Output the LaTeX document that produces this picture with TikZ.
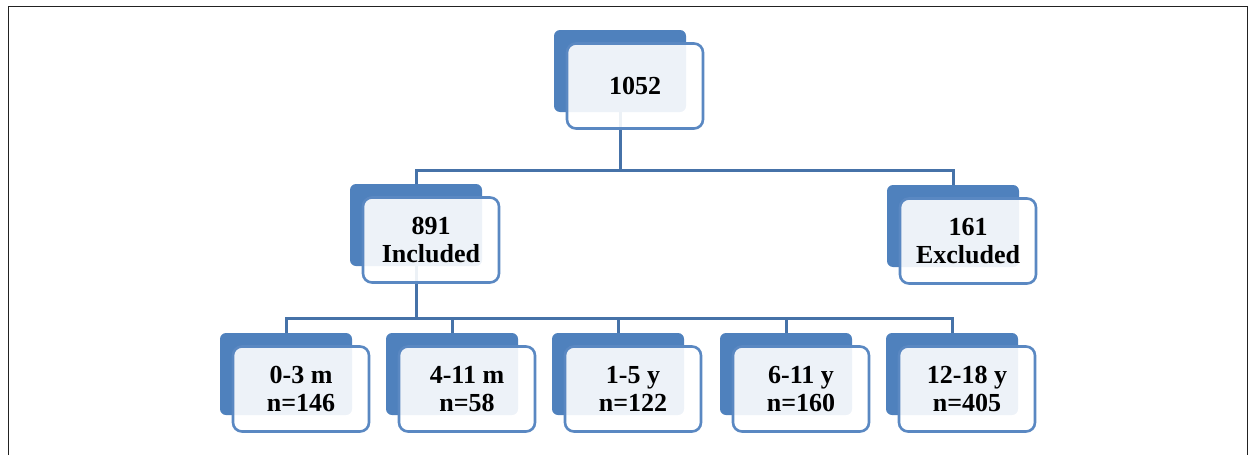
\documentclass[tikz,border=0pt]{standalone}
\usepackage{fontspec}
\setmainfont{Liberation Serif}
\definecolor{boxblue}{HTML}{4F81BD}
\definecolor{edgeblue}{HTML}{5A88C2}
\definecolor{linkblue}{HTML}{4672A8}
\definecolor{framegray}{HTML}{222222}
\tikzset{
  backbox/.style={draw=none, fill=boxblue, rounded corners=6pt,
    minimum width=132pt, minimum height=82pt, inner sep=0pt},
  frontbox/.style={draw=edgeblue, line width=2.6pt, fill=white, fill opacity=0.9,
    text opacity=1, rounded corners=9pt, minimum width=136pt, minimum height=85pt,
    inner sep=0pt, align=center, font=\fontsize{26}{28}\selectfont\bfseries},
  link/.style={draw=linkblue, line width=3pt, line join=miter}
}
\begin{document}
\begin{tikzpicture}[x=1pt,y=-1pt]
\useasboundingbox (0,0) rectangle (1249,455);
% outer frame, open at the bottom
\draw[framegray, line width=1.6pt] (8.5,455) -- (8.5,6.5) -- (1247.5,6.5) -- (1247.5,455);

% back plates
\node[backbox] (top) at (620,71) {};
\node[backbox] (inc) at (416,225) {};
\node[backbox] (exc) at (953,226) {};
\node[backbox] (c1) at (286,374) {};
\node[backbox] (c2) at (452,374) {};
\node[backbox] (c3) at (618,374) {};
\node[backbox] (c4) at (786,374) {};
\node[backbox] (c5) at (952,374) {};

% connectors
\coordinate (busA) at (620,170);
\coordinate (busB) at (416,318);
\draw[link] (top.south) -- (busA) -| (inc.north);
\draw[link] (busA) -| (exc.north);
\draw[link] (inc.south) -- (busB) -| (c1.north);
\draw[link] (busB) -| (c2.north);
\draw[link] (busB) -| (c3.north);
\draw[link] (busB) -| (c4.north);
\draw[link] (busB) -| (c5.north);

% front cards with labels
\node[frontbox] (topF) at (635,86) {1052};
\node[frontbox] (incF) at (431,240) {891\\Included};
\node[frontbox] (excF) at (968,241) {161\\Excluded};
\node[frontbox] (c1F) at (301,389) {0-3 m\\n=146};
\node[frontbox] (c2F) at (467,389) {4-11 m\\n=58};
\node[frontbox] (c3F) at (633,389) {1-5 y\\n=122};
\node[frontbox] (c4F) at (801,389) {6-11 y\\n=160};
\node[frontbox] (c5F) at (967,389) {12-18 y\\n=405};
\end{tikzpicture}
\end{document}
